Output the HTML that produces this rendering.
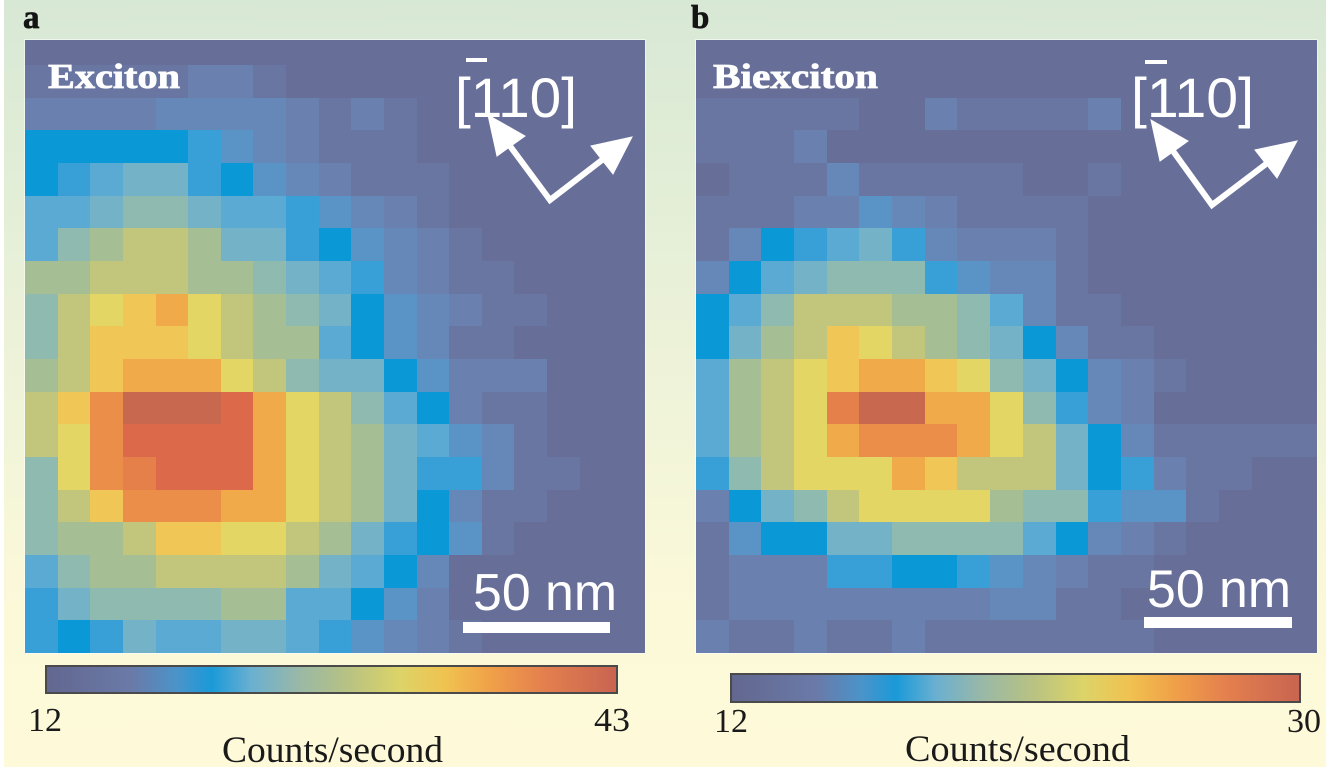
<!DOCTYPE html>
<html><head><meta charset="utf-8">
<style>
html,body{margin:0;padding:0;background:#fff;}
body{width:1334px;height:772px;position:relative;overflow:hidden;}
.fig{position:absolute;left:4px;top:0;width:1322px;height:767px;background:linear-gradient(180deg,#d7e8d5 0%,#e3eed7 25%,#f1f4d9 55%,#fcf9d9 80%,#fefad9 100%);}
.hm{position:absolute;top:40px;height:613px;display:grid;grid-template-columns:repeat(19,1fr);grid-template-rows:25px repeat(18,1fr);box-shadow:0 0 0 1px rgba(255,255,255,0.55);}
.hm i{display:block;}
#ha{left:25px;width:620px;}
#hb{left:696px;width:621px;}
.a{background:#676f98}.b{background:#6a76a2}.c{background:#6a80ae}.d{background:#6688b8}.e{background:#5a94c6}
.f{background:#0a98d6}.g{background:#38a0d6}.h{background:#5aaad4}.i{background:#74b2c8}.j{background:#8ebab0}
.k{background:#a6be94}.l{background:#c2c67c}.m{background:#e4d664}.n{background:#f0c656}.o{background:#f0aa4a}
.p{background:#ea8e4a}.q{background:#dc6a4a}.r{background:#c8684f}.s{background:#e6804a}
svg{position:absolute;left:0;top:0;}
</style></head>
<body>
<div class="fig"></div>

<div class="hm" id="ha">
<i class=a></i><i class=a></i><i class=a></i><i class=a></i><i class=a></i><i class=a></i><i class=a></i><i class=a></i><i class=a></i><i class=a></i><i class=a></i><i class=a></i><i class=a></i><i class=a></i><i class=a></i><i class=a></i><i class=a></i><i class=a></i><i class=a></i>
<i class=b></i><i class=b></i><i class=b></i><i class=b></i><i class=b></i><i class=c></i><i class=c></i><i class=b></i><i class=a></i><i class=a></i><i class=a></i><i class=a></i><i class=a></i><i class=a></i><i class=a></i><i class=a></i><i class=a></i><i class=a></i><i class=a></i>
<i class=c></i><i class=c></i><i class=c></i><i class=c></i><i class=d></i><i class=d></i><i class=d></i><i class=d></i><i class=c></i><i class=b></i><i class=c></i><i class=b></i><i class=a></i><i class=a></i><i class=a></i><i class=a></i><i class=a></i><i class=a></i><i class=a></i>
<i class=f></i><i class=f></i><i class=f></i><i class=f></i><i class=f></i><i class=g></i><i class=e></i><i class=d></i><i class=c></i><i class=b></i><i class=b></i><i class=b></i><i class=a></i><i class=a></i><i class=a></i><i class=a></i><i class=a></i><i class=a></i><i class=a></i>
<i class=f></i><i class=g></i><i class=h></i><i class=i></i><i class=i></i><i class=g></i><i class=f></i><i class=e></i><i class=d></i><i class=c></i><i class=b></i><i class=b></i><i class=b></i><i class=a></i><i class=a></i><i class=a></i><i class=a></i><i class=a></i><i class=a></i>
<i class=h></i><i class=h></i><i class=i></i><i class=j></i><i class=j></i><i class=i></i><i class=h></i><i class=h></i><i class=g></i><i class=e></i><i class=d></i><i class=c></i><i class=b></i><i class=a></i><i class=a></i><i class=a></i><i class=a></i><i class=a></i><i class=a></i>
<i class=h></i><i class=j></i><i class=k></i><i class=l></i><i class=l></i><i class=k></i><i class=i></i><i class=i></i><i class=g></i><i class=f></i><i class=e></i><i class=d></i><i class=c></i><i class=b></i><i class=a></i><i class=a></i><i class=a></i><i class=a></i><i class=a></i>
<i class=k></i><i class=k></i><i class=l></i><i class=l></i><i class=l></i><i class=k></i><i class=k></i><i class=j></i><i class=i></i><i class=h></i><i class=g></i><i class=d></i><i class=c></i><i class=b></i><i class=b></i><i class=a></i><i class=a></i><i class=a></i><i class=a></i>
<i class=j></i><i class=l></i><i class=m></i><i class=n></i><i class=o></i><i class=m></i><i class=l></i><i class=k></i><i class=j></i><i class=i></i><i class=f></i><i class=e></i><i class=d></i><i class=c></i><i class=b></i><i class=b></i><i class=a></i><i class=a></i><i class=a></i>
<i class=j></i><i class=l></i><i class=n></i><i class=n></i><i class=n></i><i class=m></i><i class=l></i><i class=k></i><i class=k></i><i class=h></i><i class=f></i><i class=e></i><i class=d></i><i class=b></i><i class=b></i><i class=a></i><i class=a></i><i class=a></i><i class=a></i>
<i class=k></i><i class=l></i><i class=n></i><i class=o></i><i class=o></i><i class=o></i><i class=m></i><i class=l></i><i class=j></i><i class=i></i><i class=i></i><i class=f></i><i class=e></i><i class=c></i><i class=c></i><i class=c></i><i class=a></i><i class=a></i><i class=a></i>
<i class=l></i><i class=n></i><i class=p></i><i class=r></i><i class=r></i><i class=r></i><i class=q></i><i class=o></i><i class=m></i><i class=l></i><i class=j></i><i class=h></i><i class=f></i><i class=c></i><i class=b></i><i class=b></i><i class=a></i><i class=a></i><i class=a></i>
<i class=l></i><i class=m></i><i class=p></i><i class=q></i><i class=q></i><i class=q></i><i class=q></i><i class=o></i><i class=m></i><i class=l></i><i class=k></i><i class=i></i><i class=h></i><i class=e></i><i class=d></i><i class=b></i><i class=a></i><i class=a></i><i class=a></i>
<i class=j></i><i class=m></i><i class=p></i><i class=s></i><i class=q></i><i class=q></i><i class=q></i><i class=o></i><i class=m></i><i class=l></i><i class=k></i><i class=i></i><i class=g></i><i class=g></i><i class=d></i><i class=b></i><i class=b></i><i class=a></i><i class=a></i>
<i class=j></i><i class=l></i><i class=n></i><i class=p></i><i class=p></i><i class=p></i><i class=o></i><i class=o></i><i class=m></i><i class=l></i><i class=k></i><i class=i></i><i class=f></i><i class=d></i><i class=b></i><i class=b></i><i class=a></i><i class=a></i><i class=a></i>
<i class=j></i><i class=k></i><i class=k></i><i class=l></i><i class=n></i><i class=n></i><i class=m></i><i class=m></i><i class=l></i><i class=k></i><i class=i></i><i class=g></i><i class=f></i><i class=e></i><i class=b></i><i class=a></i><i class=a></i><i class=a></i><i class=a></i>
<i class=h></i><i class=j></i><i class=k></i><i class=k></i><i class=l></i><i class=l></i><i class=l></i><i class=l></i><i class=k></i><i class=i></i><i class=h></i><i class=f></i><i class=d></i><i class=a></i><i class=a></i><i class=a></i><i class=a></i><i class=a></i><i class=a></i>
<i class=g></i><i class=i></i><i class=j></i><i class=j></i><i class=j></i><i class=j></i><i class=k></i><i class=k></i><i class=h></i><i class=h></i><i class=f></i><i class=e></i><i class=c></i><i class=a></i><i class=a></i><i class=a></i><i class=a></i><i class=a></i><i class=a></i>
<i class=g></i><i class=f></i><i class=g></i><i class=i></i><i class=h></i><i class=h></i><i class=i></i><i class=i></i><i class=h></i><i class=g></i><i class=e></i><i class=d></i><i class=c></i><i class=b></i><i class=a></i><i class=a></i><i class=a></i><i class=a></i><i class=a></i>
</div>

<div class="hm" id="hb">
<i class=a></i><i class=a></i><i class=a></i><i class=a></i><i class=a></i><i class=a></i><i class=a></i><i class=a></i><i class=a></i><i class=a></i><i class=a></i><i class=a></i><i class=a></i><i class=a></i><i class=a></i><i class=a></i><i class=a></i><i class=a></i><i class=a></i>
<i class=a></i><i class=a></i><i class=a></i><i class=a></i><i class=a></i><i class=a></i><i class=a></i><i class=a></i><i class=a></i><i class=a></i><i class=a></i><i class=a></i><i class=a></i><i class=a></i><i class=a></i><i class=a></i><i class=a></i><i class=a></i><i class=a></i>
<i class=b></i><i class=b></i><i class=b></i><i class=b></i><i class=b></i><i class=a></i><i class=a></i><i class=c></i><i class=b></i><i class=b></i><i class=b></i><i class=b></i><i class=c></i><i class=a></i><i class=a></i><i class=a></i><i class=a></i><i class=a></i><i class=a></i>
<i class=b></i><i class=b></i><i class=b></i><i class=c></i><i class=a></i><i class=a></i><i class=a></i><i class=a></i><i class=a></i><i class=a></i><i class=a></i><i class=a></i><i class=a></i><i class=a></i><i class=a></i><i class=a></i><i class=a></i><i class=a></i><i class=a></i>
<i class=a></i><i class=b></i><i class=b></i><i class=b></i><i class=d></i><i class=b></i><i class=b></i><i class=b></i><i class=b></i><i class=b></i><i class=a></i><i class=a></i><i class=b></i><i class=a></i><i class=a></i><i class=a></i><i class=a></i><i class=a></i><i class=a></i>
<i class=b></i><i class=b></i><i class=b></i><i class=c></i><i class=c></i><i class=e></i><i class=d></i><i class=c></i><i class=b></i><i class=b></i><i class=b></i><i class=b></i><i class=a></i><i class=a></i><i class=a></i><i class=a></i><i class=a></i><i class=a></i><i class=a></i>
<i class=b></i><i class=d></i><i class=f></i><i class=g></i><i class=h></i><i class=i></i><i class=g></i><i class=d></i><i class=c></i><i class=c></i><i class=c></i><i class=b></i><i class=a></i><i class=a></i><i class=a></i><i class=a></i><i class=a></i><i class=a></i><i class=a></i>
<i class=d></i><i class=f></i><i class=h></i><i class=i></i><i class=j></i><i class=j></i><i class=j></i><i class=g></i><i class=e></i><i class=d></i><i class=d></i><i class=b></i><i class=a></i><i class=a></i><i class=a></i><i class=a></i><i class=a></i><i class=a></i><i class=a></i>
<i class=f></i><i class=h></i><i class=j></i><i class=l></i><i class=l></i><i class=l></i><i class=k></i><i class=k></i><i class=j></i><i class=h></i><i class=d></i><i class=b></i><i class=b></i><i class=a></i><i class=a></i><i class=a></i><i class=a></i><i class=a></i><i class=a></i>
<i class=f></i><i class=i></i><i class=k></i><i class=l></i><i class=n></i><i class=m></i><i class=l></i><i class=k></i><i class=j></i><i class=i></i><i class=f></i><i class=d></i><i class=b></i><i class=b></i><i class=a></i><i class=a></i><i class=a></i><i class=a></i><i class=a></i>
<i class=h></i><i class=k></i><i class=l></i><i class=m></i><i class=n></i><i class=o></i><i class=o></i><i class=n></i><i class=m></i><i class=j></i><i class=i></i><i class=f></i><i class=d></i><i class=c></i><i class=b></i><i class=a></i><i class=a></i><i class=a></i><i class=a></i>
<i class=h></i><i class=k></i><i class=l></i><i class=m></i><i class=s></i><i class=r></i><i class=r></i><i class=o></i><i class=o></i><i class=m></i><i class=j></i><i class=g></i><i class=d></i><i class=c></i><i class=a></i><i class=a></i><i class=a></i><i class=a></i><i class=a></i>
<i class=h></i><i class=k></i><i class=l></i><i class=m></i><i class=o></i><i class=p></i><i class=p></i><i class=p></i><i class=o></i><i class=m></i><i class=l></i><i class=i></i><i class=f></i><i class=d></i><i class=b></i><i class=b></i><i class=b></i><i class=b></i><i class=b></i>
<i class=g></i><i class=j></i><i class=l></i><i class=m></i><i class=m></i><i class=m></i><i class=o></i><i class=n></i><i class=l></i><i class=l></i><i class=l></i><i class=i></i><i class=f></i><i class=g></i><i class=c></i><i class=b></i><i class=b></i><i class=a></i><i class=a></i>
<i class=c></i><i class=f></i><i class=i></i><i class=j></i><i class=l></i><i class=m></i><i class=m></i><i class=m></i><i class=m></i><i class=k></i><i class=j></i><i class=j></i><i class=g></i><i class=e></i><i class=e></i><i class=b></i><i class=a></i><i class=a></i><i class=a></i>
<i class=b></i><i class=e></i><i class=f></i><i class=f></i><i class=i></i><i class=i></i><i class=j></i><i class=j></i><i class=j></i><i class=j></i><i class=h></i><i class=f></i><i class=d></i><i class=c></i><i class=b></i><i class=a></i><i class=a></i><i class=a></i><i class=a></i>
<i class=b></i><i class=c></i><i class=c></i><i class=c></i><i class=g></i><i class=g></i><i class=f></i><i class=f></i><i class=g></i><i class=e></i><i class=d></i><i class=c></i><i class=b></i><i class=b></i><i class=a></i><i class=a></i><i class=a></i><i class=a></i><i class=a></i>
<i class=b></i><i class=c></i><i class=c></i><i class=c></i><i class=c></i><i class=c></i><i class=c></i><i class=c></i><i class=c></i><i class=d></i><i class=d></i><i class=b></i><i class=b></i><i class=a></i><i class=a></i><i class=a></i><i class=a></i><i class=a></i><i class=a></i>
<i class=c></i><i class=b></i><i class=b></i><i class=c></i><i class=b></i><i class=b></i><i class=c></i><i class=b></i><i class=b></i><i class=b></i><i class=b></i><i class=b></i><i class=b></i><i class=b></i><i class=a></i><i class=a></i><i class=a></i><i class=a></i><i class=a></i>
</div>

<svg width="1334" height="772" viewBox="0 0 1334 772" xmlns="http://www.w3.org/2000/svg">
  <defs>
    <linearGradient id="cm" x1="0" y1="0" x2="1" y2="0">
      <stop offset="0" stop-color="#62678f"/>
      <stop offset="0.15" stop-color="#6a7aa8"/>
      <stop offset="0.23" stop-color="#4a94ca"/>
      <stop offset="0.29" stop-color="#1a9ad8"/>
      <stop offset="0.36" stop-color="#6ab0d0"/>
      <stop offset="0.44" stop-color="#98b8a8"/>
      <stop offset="0.53" stop-color="#b8c282"/>
      <stop offset="0.62" stop-color="#dcd468"/>
      <stop offset="0.70" stop-color="#f0c250"/>
      <stop offset="0.78" stop-color="#f0a048"/>
      <stop offset="0.87" stop-color="#e4804e"/>
      <stop offset="1" stop-color="#c86450"/>
    </linearGradient>
  </defs>

  <!-- panel letters -->
  <text x="23" y="28" font-family="'Liberation Serif', serif" font-weight="bold" font-size="33" fill="#141414" stroke="#141414" stroke-width="0.7">a</text>
  <text x="691" y="28" font-family="'Liberation Serif', serif" font-weight="bold" font-size="33" fill="#141414" stroke="#141414" stroke-width="0.7">b</text>

  <!-- titles -->
  <text x="48" y="88" font-family="'Liberation Serif', serif" font-weight="bold" font-size="35" fill="#ffffff" stroke="#ffffff" stroke-width="0.8" textLength="132" lengthAdjust="spacingAndGlyphs">Exciton</text>
  <text x="713" y="88" font-family="'Liberation Serif', serif" font-weight="bold" font-size="35" fill="#ffffff" stroke="#ffffff" stroke-width="0.8" textLength="165" lengthAdjust="spacingAndGlyphs">Biexciton</text>

  <!-- crystal direction a -->
  <text x="455" y="117" font-family="'Liberation Sans', sans-serif" font-size="56" fill="#ffffff" textLength="122" lengthAdjust="spacingAndGlyphs">[110]</text>
  <rect x="466" y="58" width="21" height="4" fill="#ffffff"/>
  <g fill="#ffffff" stroke="#ffffff">
    <polyline points="510,146 550,200 602,160" fill="none" stroke-width="6" stroke-linejoin="miter"/>
    <polygon points="488,115 525,136 497,156" stroke-width="1"/>
    <polygon points="632,137 591,146 613,174" stroke-width="1"/>
  </g>

  <!-- crystal direction b -->
  <text x="1131" y="117" font-family="'Liberation Sans', sans-serif" font-size="56" fill="#ffffff" textLength="123" lengthAdjust="spacingAndGlyphs">[110]</text>
  <rect x="1145" y="60" width="22" height="4" fill="#ffffff"/>
  <g fill="#ffffff" stroke="#ffffff">
    <polyline points="1173,151 1212,205 1266,164" fill="none" stroke-width="6" stroke-linejoin="miter"/>
    <polygon points="1151,120 1188,141 1160,161" stroke-width="1"/>
    <polygon points="1297,141 1255,150 1277,178" stroke-width="1"/>
  </g>

  <!-- scale bars -->
  <text x="473" y="610" font-family="'Liberation Sans', sans-serif" font-size="52" fill="#ffffff" textLength="144" lengthAdjust="spacingAndGlyphs">50 nm</text>
  <rect x="463" y="622" width="147" height="11" fill="#ffffff"/>
  <text x="1147" y="607" font-family="'Liberation Sans', sans-serif" font-size="53" fill="#ffffff" textLength="144" lengthAdjust="spacingAndGlyphs">50 nm</text>
  <rect x="1144" y="617" width="148" height="11" fill="#ffffff"/>

  <!-- colorbars -->
  <rect x="46" y="666" width="571" height="27" fill="url(#cm)" stroke="#4a4a4a" stroke-width="2"/>
  <rect x="731" y="674" width="569" height="28" fill="url(#cm)" stroke="#4a4a4a" stroke-width="2"/>

  <!-- colorbar labels -->
  <g font-family="'Liberation Serif', serif" fill="#1a1a1a">
    <text x="28" y="731" font-size="34" textLength="34" lengthAdjust="spacingAndGlyphs">12</text>
    <text x="594" y="731" font-size="34" textLength="36" lengthAdjust="spacingAndGlyphs">43</text>
    <text x="222" y="762" font-size="37" textLength="221" lengthAdjust="spacingAndGlyphs">Counts/second</text>
    <text x="714" y="732" font-size="34" textLength="34" lengthAdjust="spacingAndGlyphs">12</text>
    <text x="1287" y="732" font-size="34" textLength="34" lengthAdjust="spacingAndGlyphs">30</text>
    <text x="905" y="761" font-size="37" textLength="225" lengthAdjust="spacingAndGlyphs">Counts/second</text>
  </g>
</svg>
</body></html>
